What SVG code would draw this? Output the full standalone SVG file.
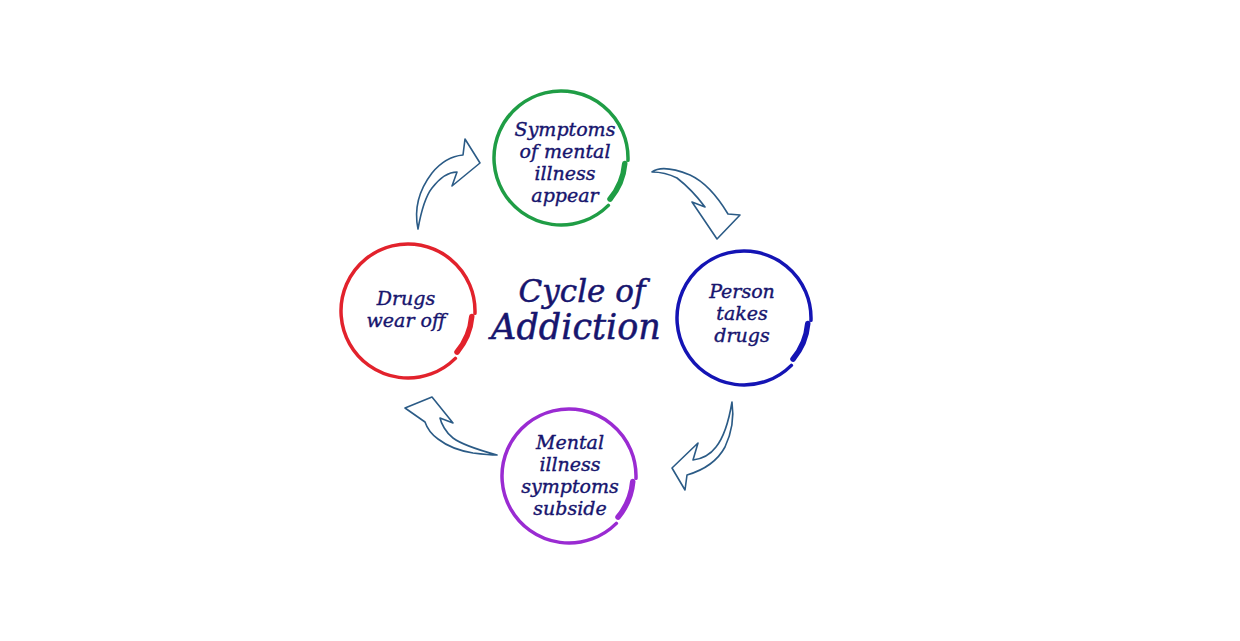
<svg xmlns="http://www.w3.org/2000/svg" width="1240" height="641" viewBox="0 0 1240 641">
<style>
.ring{fill:none;stroke-width:3.5;stroke-linecap:round}
.tail{fill:none;stroke-width:5.5;stroke-linecap:round}
.lbl{font-family:"DejaVu Serif","Liberation Serif",serif;font-style:italic;font-size:19px;fill:#17156e;stroke:#17156e;stroke-width:0.4;text-anchor:middle}
.title{font-family:"DejaVu Serif","Liberation Serif",serif;font-style:italic;fill:#17156e;stroke:#17156e;stroke-width:0.5;text-anchor:middle}
.arrow{fill:#fff;stroke:#2b5b86;stroke-width:1.6;stroke-linejoin:round}
</style>
<rect width="1240" height="641" fill="#fff"/>
<g id="connectors">
<path class="arrow" d="M418,229 C414,210 419,190 432,173 C441,162 452,156 463,155 L465,139 L480,163 L452,186 L457,172 C448,172 439,179 432,188 C425,197 421,212 418,229 Z"/>
<path class="arrow" d="M652,172 C660,166 675,169 690,175 C703,181 716,194 728,214 L740,215 L717,239 L692,202 L705,207 C699,199 690,188 677,178 C669,174 660,172 652,172 Z"/>
<path class="arrow" d="M732,402 C734,416 732,432 725,447 C718,460 704,470 687,475 L685,490 L672,468 L698,443 L693,460 C701,459 710,455 716,447 C724,437 729,420 732,402 Z"/>
<path class="arrow" d="M497,455 C489,455 481,454 473,453 C461,451 447,446 438,439 C431,434 427,428 425,422 L405,408 L432,397 L453,423 L440,418 C441,423 446,433 453,438 C461,444 475,449 497,455 Z"/>
</g>
<g id="node-symptoms-appear" transform="translate(561,158)">
<path class="ring" stroke="#1f9d45" d="M66.96,2.34 A67,67 0 1 0 47.38,47.38"/>
<path class="tail" stroke="#1f9d45" d="M49.02,41.14 A64,64 0 0 0 63.76,5.58"/>
<text class="lbl" x="4" y="-22">Symptoms</text>
<text class="lbl" x="4" y="0">of mental</text>
<text class="lbl" x="4" y="22">illness</text>
<text class="lbl" x="4" y="44">appear</text>
</g>
<g id="node-person-takes-drugs" transform="translate(744,318)">
<path class="ring" stroke="#1414b4" d="M66.96,2.34 A67,67 0 1 0 47.38,47.38"/>
<path class="tail" stroke="#1414b4" d="M49.02,41.14 A64,64 0 0 0 63.76,5.58"/>
<text class="lbl" x="-2" y="-20">Person</text>
<text class="lbl" x="-2" y="2">takes</text>
<text class="lbl" x="-2" y="24">drugs</text>
</g>
<g id="node-symptoms-subside" transform="translate(569,476)">
<path class="ring" stroke="#9a2bd2" d="M66.96,2.34 A67,67 0 1 0 47.38,47.38"/>
<path class="tail" stroke="#9a2bd2" d="M49.02,41.14 A64,64 0 0 0 63.76,5.58"/>
<text class="lbl" x="1" y="-27">Mental</text>
<text class="lbl" x="1" y="-5">illness</text>
<text class="lbl" x="1" y="17">symptoms</text>
<text class="lbl" x="1" y="39">subside</text>
</g>
<g id="node-drugs-wear-off" transform="translate(408,311)">
<path class="ring" stroke="#e2222c" d="M66.96,2.34 A67,67 0 1 0 47.38,47.38"/>
<path class="tail" stroke="#e2222c" d="M49.02,41.14 A64,64 0 0 0 63.76,5.58"/>
<text class="lbl" x="-2" y="-6">Drugs</text>
<text class="lbl" x="-2" y="16">wear off</text>
</g>
<g id="title">
<text class="title" x="582" y="302" font-size="31">Cycle of</text>
<text class="title" x="576" y="339" font-size="35">Addiction</text>
</g>
</svg>
